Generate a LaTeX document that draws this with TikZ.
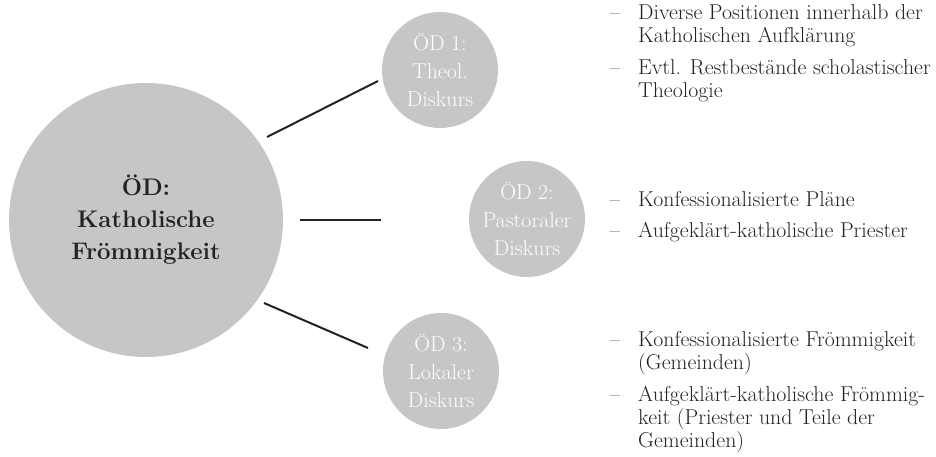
\documentclass[tikz,border=0pt]{standalone}
\usepackage{fontspec}
\setmainfont{Latin Modern Roman}
\usepackage{tikz}
\usetikzlibrary{positioning,calc}
\definecolor{discgray}{RGB}{198,198,198}
\definecolor{inkdark}{RGB}{34,34,34}

\begin{document}
\begin{tikzpicture}[
  x=1pt, y=-1pt,
  maindisc/.style={circle, fill=discgray, minimum size=274pt, inner sep=0pt,
    align=center, text=inkdark, font=\fontsize{24}{32}\selectfont\bfseries},
  subdisc/.style={circle, fill=discgray, minimum size=116pt, inner sep=0pt,
    align=center, text=white,
    font=\fontsize{21.5}{28}\selectfont\addfontfeature{FakeStretch=1.02}},
  notes/.style={anchor=base west, inner sep=0pt, text=inkdark,
    font=\fontsize{21.5}{23}\selectfont\addfontfeature{FakeStretch=1.015}},
  link/.style={draw=inkdark, line width=2pt}
  ]

\useasboundingbox (0,0) rectangle (936,457);

% discourse circles
\node[maindisc] (main) at (146,220) {ÖD:\\Katholische\\Frömmigkeit};
\node[subdisc] (theo) at (440,70) {ÖD 1:\\Theol.\\Diskurs};
\node[subdisc] (past) at (527,219) {ÖD 2:\\Pastoraler\\Diskurs};
\node[subdisc] (lokal) at (441,371) {ÖD 3:\\Lokaler\\Diskurs};

% connector ends
\coordinate (theoA) at (267,137);
\coordinate (theoB) at (378,81);
\coordinate (pastA) at (300,220);
\coordinate (pastB) at (381,220);
\coordinate (lokalA) at (264,303);
\coordinate (lokalB) at (368,348);

\draw[link] (theoA) -- (theoB);
\draw[link] (pastA) -- (pastB);
\draw[link] (lokalA) -- (lokalB);

% notes
\node[notes] (theoNotes) at (610,20) {\begin{tabular}[t]{@{}l@{\hspace{18pt}}l@{}}
– & Diverse Positionen innerhalb der\\
  & Katholischen Aufklärung\\[9pt]
– & Evtl. Restbestände scholastischer\\
  & Theologie
\end{tabular}};

\node[notes] (pastNotes) at (610,206) {\begin{tabular}[t]{@{}l@{\hspace{18pt}}l@{}}
– & Konfessionalisierte Pläne\\[9pt]
– & Aufgeklärt-katholische Priester
\end{tabular}};

\node[notes] (lokalNotes) at (610,346) {\begin{tabular}[t]{@{}l@{\hspace{18pt}}l@{}}
– & Konfessionalisierte Frömmigkeit\\
  & (Gemeinden)\\[9pt]
– & Aufgeklärt-katholische Frömmig-\\
  & keit (Priester und Teile der\\
  & Gemeinden)
\end{tabular}};

\end{tikzpicture}
\end{document}
